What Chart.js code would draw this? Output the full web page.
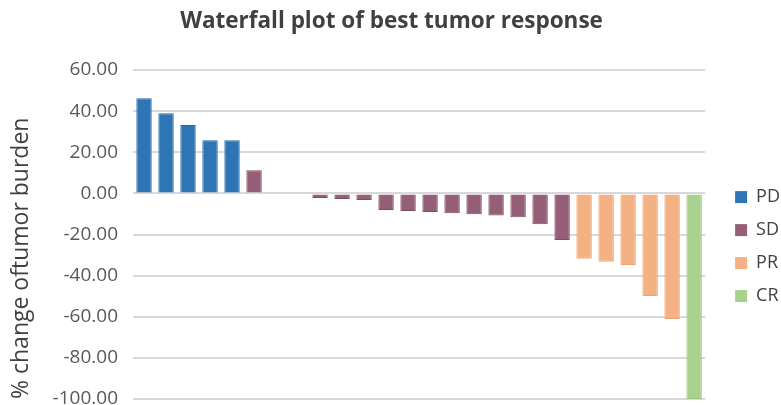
<!DOCTYPE html>
<html>
<head>
<meta charset="utf-8">
<script src="https://cdn.jsdelivr.net/npm/chart.js@4"></script>
<style>
  html, body { margin: 0; padding: 0; background: #fff; }
  #wrap { width: 781px; height: 405px; }
</style>
</head>
<body>
<div id="wrap"><canvas id="waterfallChart"></canvas></div>
<script>
// best response per patient, sorted high to low
const pdValues = [46.3, 39.0, 33.3, 25.8, 25.8];
const sdValues = [11.2, 0, 0, -2.2, -2.7, -3.2, -8.1, -8.6, -9.1, -9.7, -10.2, -10.7, -11.6, -15.0, -22.7];
const prValues = [-31.8, -33.2, -34.8, -49.9, -61.1];
const crValues = [-100];

const groupNames = ['PD', 'SD', 'PR', 'CR'];
const groupColors = ['#2E75B6', '#965F78', '#F4B183', '#A9D18E'];
const groupEdges = ['#2A6AA6', '#7E4C62', '#EFA371', '#9CC87F'];
const yTicks = [60, 40, 20, 0, -20, -40, -60, -80, -100];

const groups = [pdValues, sdValues, prValues, crValues];
const total = groups.reduce((n, g) => n + g.length, 0);
const patients = Array.from({ length: total }, (_, i) => 'P' + (i + 1));

// one dataset per group, padded with nulls so each bar sits in its own slot
let offset = 0;
const datasets = groups.map((vals, gi) => {
  const data = new Array(total).fill(null);
  vals.forEach((v, i) => { data[offset + i] = v; });
  offset += vals.length;
  return {
    label: groupNames[gi],
    data: data,
    backgroundColor: groupColors[gi],
    borderColor: groupEdges[gi],
    borderWidth: 1,
    barPercentage: 0.7,
    categoryPercentage: 1.0,
  };
});

// push the legend a bit further from the plot, like the original
const legendNudge = {
  id: 'legendNudge',
  afterLayout(chart) {
    chart.legend.left += 15;
    chart.legend.right += 15;
  },
};

const ctx = document.getElementById('waterfallChart').getContext('2d');
new Chart(ctx, {
  type: 'bar',
  data: {
    labels: patients,
    datasets: datasets,
  },
  plugins: [legendNudge],
  options: {
    responsive: true,
    maintainAspectRatio: false,
    animation: false,
    layout: {
      padding: { left: 8, right: 6, top: 0, bottom: 0 },
    },
    plugins: {
      title: {
        display: true,
        text: 'Waterfall plot of best tumor response',
        color: '#404040',
        font: { family: 'Open Sans', size: 22.5, weight: 'bold' },
        padding: { top: 8, bottom: 35 },
      },
      legend: {
        position: 'right',
        title: {
          display: true,
          text: ' ',
          font: { size: 1 },
          padding: { top: 87, bottom: 0 },
        },
        labels: {
          color: '#404040',
          font: { family: 'Open Sans', size: 18 },
          boxWidth: 12,
          boxHeight: 12,
          padding: 15,
          generateLabels: (chart) => groupNames.map((name, i) => ({
            text: name,
            fillStyle: groupColors[i],
            strokeStyle: groupColors[i],
            lineWidth: 0,
            fontColor: '#404040',
            datasetIndex: i,
          })),
        },
      },
      tooltip: { enabled: false },
    },
    scales: {
      x: {
        stacked: true,
        display: false,
      },
      y: {
        stacked: true,
        min: -100,
        max: 60,
        afterBuildTicks: (axis) => {
          axis.ticks = yTicks.map(v => ({ value: v }));
        },
        afterFit: (axis) => {
          axis.paddingBottom = 6;
        },
        border: { display: false },
        grid: {
          color: '#d9d9d9',
          lineWidth: 2,
          drawTicks: false,
        },
        ticks: {
          color: '#595959',
          padding: 15,
          font: { family: 'Open Sans', size: 19 },
          callback: (v) => Number(v).toFixed(2),
        },
        title: {
          display: true,
          align: 'start',
          text: '% change oftumor burden',
          color: '#404040',
          font: { family: 'Open Sans', size: 23 },
          padding: { top: 0, bottom: 2 },
        },
      },
    },
  },
});
</script>
</body>
</html>
